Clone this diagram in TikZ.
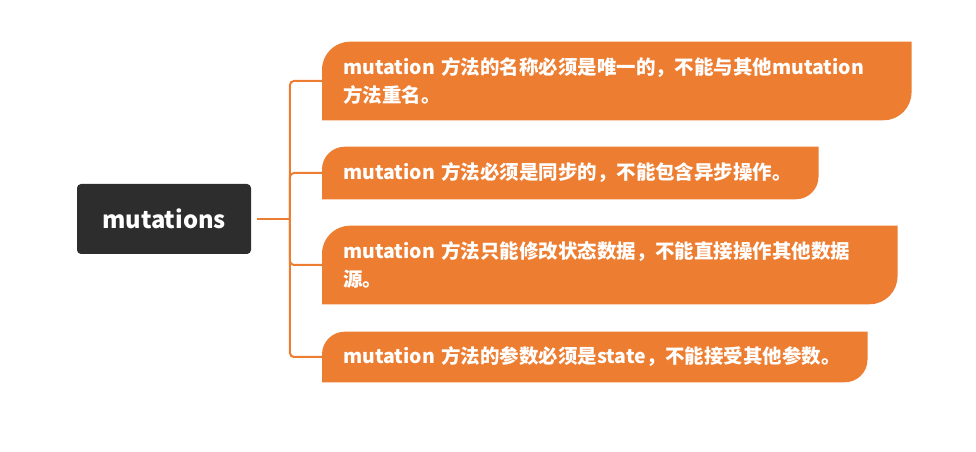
\documentclass[tikz,border=0pt]{standalone}
\usepackage{fontspec}
\setmainfont{Noto Sans CJK SC}
\usetikzlibrary{positioning, calc, backgrounds}
\definecolor{mmorange}{RGB}{237, 125, 49}
\definecolor{mmdark}{RGB}{45, 45, 45}

\begin{document}
\begin{tikzpicture}[x=0.75pt, y=0.75pt, font=\bfseries,
    rootbox/.style={fill=mmdark, rounded corners=3pt, text=white, minimum width=130.5pt, minimum height=52.5pt, font=\bfseries\fontsize{17.8}{20}\selectfont},
    leafbox/.style={anchor=west, text=white, align=left, inner xsep=15.75pt, inner ysep=0pt, font=\bfseries\fontsize{14.6}{21}\selectfont},
    link/.style={draw=mmorange, line width=1.5pt, rounded corners=3pt}]
  \useasboundingbox (0,0) rectangle (976,452);
  \node[rootbox] (root) at (164,233) {mutations};
  \node[leafbox, minimum width=441.75pt, text width=410.25pt, minimum height=58.5pt] (b1) at (322,371)
    {mutation 方法的名称必须是唯一的，不能与其他mutation\\方法重名。};
  \node[leafbox, minimum width=372pt, text width=340.5pt, minimum height=39pt] (b2) at (322,279)
    {mutation 方法必须是同步的，不能包含异步操作。};
  \node[leafbox, minimum width=431.25pt, text width=399.75pt, minimum height=58.5pt] (b3) at (322,187)
    {mutation 方法只能修改状态数据，不能直接操作其他数据\\源。};
  \node[leafbox, minimum width=408.75pt, text width=377.25pt, minimum height=37.5pt] (b4) at (322,95)
    {mutation 方法的参数必须是state，不能接受其他参数。};
  % leaf shapes behind the texts
  \begin{scope}[on background layer]
    \foreach \b/\r in {b1/21pt, b2/17pt, b3/21pt, b4/17pt}
      \fill[mmorange] (\b.south west) -- ([yshift=-\r]\b.north west) arc[start angle=180, end angle=90, radius=\r]
        -- (\b.north east) -- ([yshift=\r]\b.south east) arc[start angle=0, end angle=-90, radius=\r] -- cycle;
  \end{scope}
  \coordinate (fork) at ([xshift=29pt]root.east);
  \draw[link] ([xshift=4pt]root.east) -- (fork);
  \foreach \b in {b1, b2, b3, b4}
    \draw[link] (fork) |- (\b.west);
\end{tikzpicture}
\end{document}
